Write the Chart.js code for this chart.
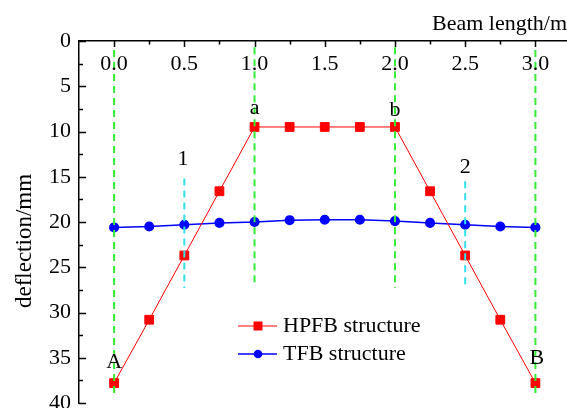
<!DOCTYPE html>
<html>
<head>
<meta charset="utf-8">
<script src="https://cdn.jsdelivr.net/npm/chart.js@4.4.0/dist/chart.umd.min.js"></script>
<style>
  html, body { margin: 0; padding: 0; background: #fff; overflow: hidden; }
  #wrap { width: 567px; height: 408px; }
</style>
</head>
<body>
<div id="wrap"><canvas id="beamChart"></canvas></div>
<script>
// beam positions (m)
const beamPos = [0, 0.25, 0.5, 0.75, 1.0, 1.25, 1.5, 1.75, 2.0, 2.25, 2.5, 2.75, 3.0];
// deflection (mm)
const hpfbDefl = [37.8, 30.8, 23.7, 16.6, 9.5, 9.5, 9.5, 9.5, 9.5, 16.6, 23.7, 30.8, 37.8];
const tfbDefl = [20.6, 20.5, 20.3, 20.1, 20.0, 19.8, 19.75, 19.75, 19.9, 20.1, 20.3, 20.5, 20.6];

// dashed guide lines: x, from y, to y
const greenGuides = [[0, 1.0, 39.3], [1, 0.7, 27.2], [2, 0.7, 27.3], [3, 1.0, 39.3]];
const cyanGuides = [[0.5, 15.2, 27.3], [2.5, 15.5, 27.3]];

// point labels
const pointLabels = [
  { text: "a", x: 1.0, y: 7.4 },
  { text: "b", x: 2.0, y: 7.7 },
  { text: "1", x: 0.49, y: 13.1 },
  { text: "2", x: 2.5, y: 14.0 },
  { text: "A", x: 0.0, y: 35.5 },
  { text: "B", x: 3.01, y: 35.0 },
];

const xTicks = [0, 0.5, 1.0, 1.5, 2.0, 2.5, 3.0];
const xMinorTicks = [0.25, 0.75, 1.25, 1.75, 2.25, 2.75];
const yTicks = [0, 5, 10, 15, 20, 25, 30, 35, 40];
const yMinorTicks = [2.5, 7.5, 12.5, 17.5, 22.5, 27.5, 32.5, 37.5];

const FONT = "'Liberation Serif', 'Times New Roman', serif";

function guideSet(g, color) {
  return {
    data: [{ x: g[0], y: g[1] }, { x: g[0], y: g[2] }],
    borderColor: color,
    borderWidth: 2,
    borderDash: [7, 5],
    pointRadius: 0,
    showLine: true,
    fill: false,
  };
}

const datasets = [];
greenGuides.forEach((g) => datasets.push(guideSet(g, "#33ee33")));
cyanGuides.forEach((g) => datasets.push(guideSet(g, "#33e0f0")));
datasets.push({
  label: "HPFB structure",
  data: beamPos.map((x, i) => ({ x: x, y: hpfbDefl[i] })),
  borderColor: "#ff0000",
  backgroundColor: "#ff0000",
  borderWidth: 1,
  pointStyle: "rect",
  pointRadius: 6.2,
  showLine: true,
});
datasets.push({
  label: "TFB structure",
  data: beamPos.map((x, i) => ({ x: x, y: tfbDefl[i] })),
  borderColor: "#0000ff",
  backgroundColor: "#0000ff",
  borderWidth: 1.5,
  pointStyle: "circle",
  pointRadius: 4.3,
  showLine: true,
});

// extra drawing: inside ticks, tick labels, titles, point labels, legend
const decorPlugin = {
  id: "decor",
  afterDraw(chart) {
    const ctx = chart.ctx;
    const xs = chart.scales.x;
    const ys = chart.scales.y;
    const area = chart.chartArea;
    ctx.save();
    ctx.strokeStyle = "#000";
    ctx.lineWidth = 1.5;
    // x ticks (pointing down from top axis)
    xTicks.forEach((v) => {
      const px = Math.round(xs.getPixelForValue(v)) + 0.5;
      ctx.beginPath(); ctx.moveTo(px, area.top); ctx.lineTo(px, area.top + 6); ctx.stroke();
    });
    xMinorTicks.forEach((v) => {
      const px = Math.round(xs.getPixelForValue(v)) + 0.5;
      ctx.beginPath(); ctx.moveTo(px, area.top); ctx.lineTo(px, area.top + 3.5); ctx.stroke();
    });
    // y ticks (pointing right from left axis)
    yTicks.forEach((v) => {
      const py = Math.round(ys.getPixelForValue(v)) + 0.5;
      ctx.beginPath(); ctx.moveTo(area.left, py); ctx.lineTo(area.left + 7, py); ctx.stroke();
    });
    yMinorTicks.forEach((v) => {
      const py = Math.round(ys.getPixelForValue(v)) + 0.5;
      ctx.beginPath(); ctx.moveTo(area.left, py); ctx.lineTo(area.left + 4, py); ctx.stroke();
    });

    ctx.fillStyle = "#000";
    ctx.font = "22px " + FONT;
    ctx.textAlign = "center";
    ctx.textBaseline = "middle";
    // x tick labels below the top axis
    xTicks.forEach((v) => {
      ctx.fillText(v.toFixed(1), xs.getPixelForValue(v), area.top + 23);
    });
    // y tick labels
    ctx.textAlign = "right";
    yTicks.forEach((v) => {
      ctx.fillText(String(v), area.left - 8, ys.getPixelForValue(v));
    });
    // point labels
    ctx.textAlign = "center";
    pointLabels.forEach((p) => {
      ctx.fillText(p.text, xs.getPixelForValue(p.x), ys.getPixelForValue(p.y));
    });
    // axis titles
    ctx.textAlign = "right";
    ctx.fillText("Beam length/m", 567, 24);
    ctx.save();
    ctx.translate(25, 241);
    ctx.rotate(-Math.PI / 2);
    ctx.textAlign = "center";
    ctx.font = "23px " + FONT;
    ctx.fillText("deflection/mm", 0, 0);
    ctx.restore();

    // legend
    const items = [
      { ds: chart.data.datasets[datasets.length - 2], y: 326 },
      { ds: chart.data.datasets[datasets.length - 1], y: 354 },
    ];
    items.forEach((it) => {
      ctx.strokeStyle = it.ds.borderColor;
      ctx.lineWidth = it.ds.borderWidth;
      ctx.beginPath(); ctx.moveTo(238, it.y); ctx.lineTo(277, it.y); ctx.stroke();
      ctx.fillStyle = it.ds.backgroundColor;
      ctx.beginPath();
      if (it.ds.pointStyle === "rect") {
        ctx.rect(258 - 4.5, it.y - 4.5, 9, 9);
      } else {
        ctx.arc(258, it.y, 4.3, 0, Math.PI * 2);
      }
      ctx.fill();
      ctx.fillStyle = "#000";
      ctx.textAlign = "left";
      ctx.fillText(it.ds.label, 283, it.y);
    });
    ctx.restore();
  },
};

new Chart(document.getElementById("beamChart"), {
  type: "scatter",
  data: { datasets: datasets },
  options: {
    responsive: true,
    maintainAspectRatio: false,
    animation: false,
    clip: false,
    layout: { autoPadding: false, padding: { top: 0, left: 0, right: 0, bottom: 5 } },
    plugins: { legend: { display: false }, tooltip: { enabled: false } },
    scales: {
      x: {
        type: "linear",
        position: "top",
        min: -0.25,
        max: 3.225,
        grid: { display: false, drawTicks: false },
        border: { display: true, color: "#000", width: 1.5 },
        ticks: { display: false },
        afterFit(scale) { scale.height = 41; },
      },
      y: {
        type: "linear",
        reverse: true,
        min: 0,
        max: 40,
        grid: { display: false, drawTicks: false },
        border: { display: true, color: "#000", width: 1.5 },
        ticks: { display: false },
        afterFit(scale) { scale.width = 79; },
      },
    },
  },
  plugins: [decorPlugin],
});
</script>
</body>
</html>
